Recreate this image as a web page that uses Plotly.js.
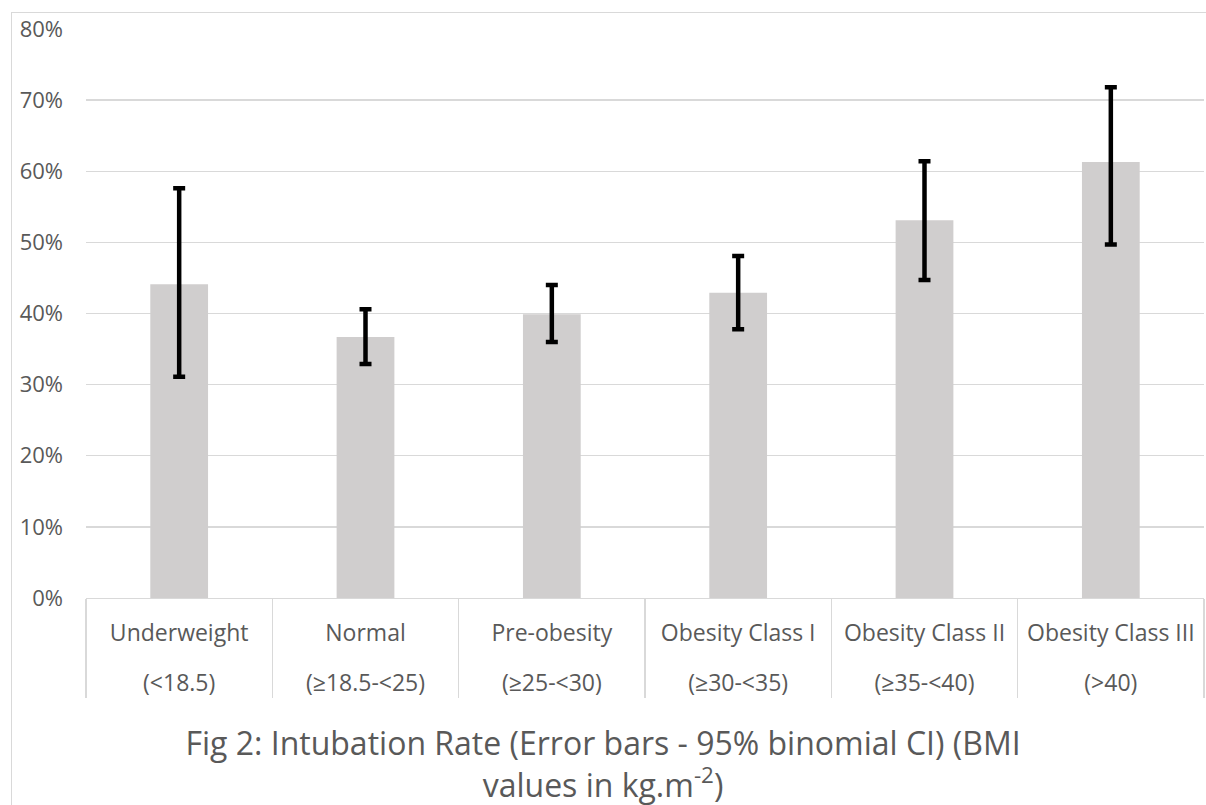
<!DOCTYPE html>
<html><head><meta charset="utf-8">
<script src="https://cdn.plot.ly/plotly-3.0.1.min.js"></script>
<style>
html,body{margin:0;padding:0;background:#fff;overflow:hidden;width:1206px;height:805px;}
#frame{position:absolute;left:11px;top:12px;width:1400px;height:1000px;border:1.3px solid #d9d9d9;box-sizing:border-box;}
#chart{position:absolute;left:0;top:0;width:1206px;height:805px;}
</style></head><body>
<div id="frame"></div>
<div id="chart"></div>
<script>
const categories = ["Underweight","Normal","Pre-obesity","Obesity Class I","Obesity Class II","Obesity Class III"];
const bmiRanges = ["(<18.5)","(≥18.5-<25)","(≥25-<30)","(≥30-<35)","(≥35-<40)","(>40)"];
const rate   = [0.441,0.367,0.399,0.429,0.531,0.613];
const ciLow  = [0.311,0.329,0.360,0.378,0.447,0.497];
const ciHigh = [0.576,0.406,0.440,0.481,0.614,0.718];
const yTicks = [0,0.1,0.2,0.3,0.4,0.5,0.6,0.7,0.8];

const FONT = "'Open Sans', 'Noto Sans', sans-serif";
const TXT = "#595959";

// second-row labels pushed one line lower to match the reference row spacing
const outerLabels = bmiRanges.map(r => "<br>" + r);

const trace = {
  type: "bar",
  x: [outerLabels, categories],
  y: rate,
  marker: {color: "#d0cece"},
  error_y: {
    type: "data",
    symmetric: false,
    array: ciHigh.map((h, i) => h - rate[i]),
    arrayminus: rate.map((r, i) => r - ciLow[i]),
    color: "#000000",
    thickness: 4.5,
    width: 6
  },
  hoverinfo: "skip"
};

const layout = {
  width: 1206, height: 805,
  margin: {l: 86, r: 2, t: 28.5, b: 206.5},
  paper_bgcolor: "rgba(0,0,0,0)",
  plot_bgcolor: "rgba(0,0,0,0)",
  showlegend: false,
  bargap: 0.69,
  font: {family: FONT, color: TXT},
  title: {
    text: "Fig 2: Intubation Rate (Error bars - 95% binomial CI) (BMI<br>values in kg.m<sup>-2</sup>)",
    font: {family: FONT, size: 32, color: TXT},
    x: 0.5, xref: "container",
    y: 1 - 755/805, yref: "container", yanchor: "middle"
  },
  xaxis: {
    type: "multicategory",
    showline: true, linecolor: "#d9d9d9", linewidth: 1.3,
    showgrid: false, ticks: "",
    ticklabelstandoff: 14,
    showdividers: true, dividercolor: "#d9d9d9", dividerwidth: 1.3,
    tickfont: {family: FONT, size: 23, color: TXT}
  },
  yaxis: {
    range: [0, 0.8],
    tickvals: yTicks,
    tickformat: ".0%",
    showgrid: true, gridcolor: "#d9d9d9", gridwidth: 1.3,
    zeroline: false, showline: false, ticks: "",
    ticklabelstandoff: 22,
    tickfont: {family: FONT, size: 22, color: TXT}
  }
};

Plotly.newPlot("chart", [trace], layout, {displayModeBar: false, staticPlot: true});
</script>
</body></html>
